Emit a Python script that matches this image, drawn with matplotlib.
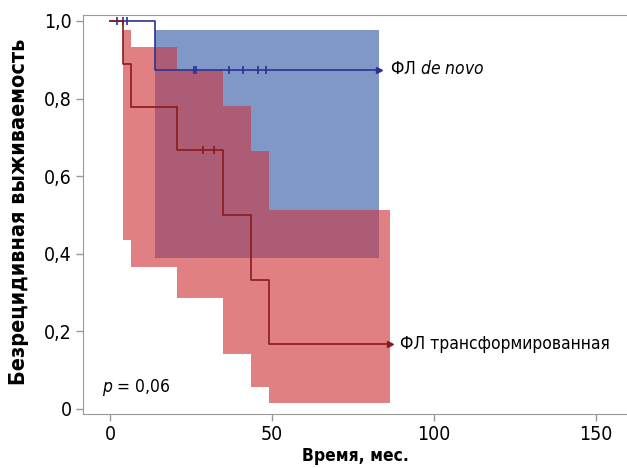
import matplotlib
matplotlib.use("Agg")
import matplotlib.pyplot as plt
import numpy as np

plt.rcParams['font.family'] = ['DejaVu Sans']
plt.rcParams['font.stretch'] = 'condensed'

# ---- data ----
x_ticks = [0, 50, 100, 150]
x_ticklabels = ["0", "50", "100", "150"]
y_ticks = [0, 0.2, 0.4, 0.6, 0.8, 1.0]
y_ticklabels = ["0", "0,2", "0,4", "0,6", "0,8", "1,0"]

# de novo group
blue_t = [0, 14.0]
blue_s = [1.0, 0.875]
blue_end = 83.0
blue_ci_t = [14.0]
blue_ci_lo = [0.389]
blue_ci_hi = [0.977]
blue_cens_t = [2.3, 3.9, 5.3, 25.8, 26.6, 36.8, 41.1, 45.8, 48.3]
blue_cens_s = [1.0, 1.0, 1.0, 0.875, 0.875, 0.875, 0.875, 0.875, 0.875]

# transformed group
red_t = [0, 4.1, 6.4, 20.8, 35.0, 43.5, 49.0]
red_s = [1.0, 0.889, 0.778, 0.667, 0.5, 0.333, 0.167]
red_end = 86.4
red_ci_t = [4.1, 6.4, 20.8, 35.0, 43.5, 49.0]
red_ci_lo = [0.436, 0.365, 0.285, 0.142, 0.057, 0.015]
red_ci_hi = [0.977, 0.933, 0.874, 0.78, 0.665, 0.513]
red_cens_t = [28.6, 32.1]
red_cens_s = [0.667, 0.667]

label_blue = "ФЛ $\\it{de\\ novo}$"
label_red = "ФЛ трансформированная"
p_text = "$\\it{p}$ = 0,06"

C_BLUE_FILL = "#8098c8"
C_RED_FILL = "#e08082"
C_OVER_FILL = "#ac5c74"
C_BLUE_LINE = "#2e3192"
C_RED_LINE = "#8b1a1a"

W, H = 627, 468
fig = plt.figure(figsize=(W/100, H/100), dpi=100)
ax_l, ax_r, ax_t, ax_b = 83, 633, 15, 414
ax = fig.add_axes([ax_l/W, 1-ax_b/H, (ax_r-ax_l)/W, (ax_b-ax_t)/H])


def step_eval(ts, vals, end, x):
    out = np.full_like(x, np.nan, dtype=float)
    for i, t0 in enumerate(ts):
        t1 = ts[i+1] if i+1 < len(ts) else end
        m = (x >= t0) & (x < t1)
        out[m] = vals[i]
    return out

bx = blue_ci_t + [blue_end]
ax.fill_between(bx, blue_ci_lo + blue_ci_lo[-1:], blue_ci_hi + blue_ci_hi[-1:], step='post',
                color=C_BLUE_FILL, lw=0, zorder=1)
rx = red_ci_t + [red_end]
ax.fill_between(rx, red_ci_lo + red_ci_lo[-1:], red_ci_hi + red_ci_hi[-1:], step='post',
                color=C_RED_FILL, lw=0, zorder=2)
brk = np.array(sorted(set(blue_ci_t + [blue_end] + red_ci_t + [red_end])), dtype=float)
bl = step_eval(blue_ci_t, blue_ci_lo, blue_end, brk)
bh = step_eval(blue_ci_t, blue_ci_hi, blue_end, brk)
rl = step_eval(red_ci_t, red_ci_lo, red_end, brk)
rh = step_eval(red_ci_t, red_ci_hi, red_end, brk)
lo = np.maximum(bl, rl)
hi = np.minimum(bh, rh)
valid = ~np.isnan(lo) & ~np.isnan(hi) & (hi > lo)
ov_x, ov_lo, ov_hi = [], [], []
for i in range(len(brk)):
    if valid[i]:
        ov_x.append(brk[i]); ov_lo.append(lo[i]); ov_hi.append(hi[i])
    elif ov_x:
        ov_x.append(brk[i]); ov_lo.append(ov_lo[-1]); ov_hi.append(ov_hi[-1])
        break
ax.fill_between(ov_x, ov_lo, ov_hi, step='post', color=C_OVER_FILL, lw=0, zorder=3)

ax.step(blue_t + [blue_end], blue_s + blue_s[-1:], where='post', color=C_BLUE_LINE, lw=1.2, zorder=5)
ax.plot([blue_end], [blue_s[-1]], marker='>', ms=4, color=C_BLUE_LINE, zorder=5)
ax.step(red_t + [red_end], red_s + red_s[-1:], where='post', color=C_RED_LINE, lw=1.2, zorder=6)
ax.plot([red_end], [red_s[-1]], marker='>', ms=4, color=C_RED_LINE, zorder=6)
ax.plot(blue_cens_t, blue_cens_s, ls='none', marker='|', ms=6, mew=1.2, color=C_BLUE_LINE, zorder=5)
ax.plot(red_cens_t, red_cens_s, ls='none', marker='|', ms=6, mew=1.2, color=C_RED_LINE, zorder=6)

ax.text(blue_end + 3.4, blue_s[-1], label_blue, fontsize=12.5, va='center', ha='left')
ax.text(red_end + 3.1, red_s[-1], label_red, fontsize=12.5, va='center', ha='left')
ax.text(-2.5, 0.055, p_text, fontsize=12.5, va='center', ha='left')

ax.set_xlim((ax_l-110)/3.24, (ax_r-110)/3.24)
ax.set_ylim(-(ax_b-409)/388, 1 + (21-ax_t)/388)
ax.set_xticks(x_ticks)
ax.set_xticklabels(x_ticklabels)
ax.set_yticks(y_ticks)
ax.set_yticklabels(y_ticklabels)
ax.tick_params(labelsize=14, color='#999999', length=5, width=1, pad=3)
for s in ['top', 'left', 'bottom']:
    ax.spines[s].set_color('#999999')
ax.spines['right'].set_visible(False)

aw, ah = ax_r-ax_l, ax_b-ax_t
ax.set_xlabel("Время, мес.", fontsize=12.5, fontweight='bold')
ax.xaxis.set_label_coords((355-ax_l)/aw, -(447-ax_b)/ah)
ax.set_ylabel("Безрецидивная выживаемость", fontsize=15.5, fontweight='bold')
ax.yaxis.set_label_coords(-(ax_l-29)/aw, (ax_b-212)/ah)

fig.savefig("out.png", dpi=100)
